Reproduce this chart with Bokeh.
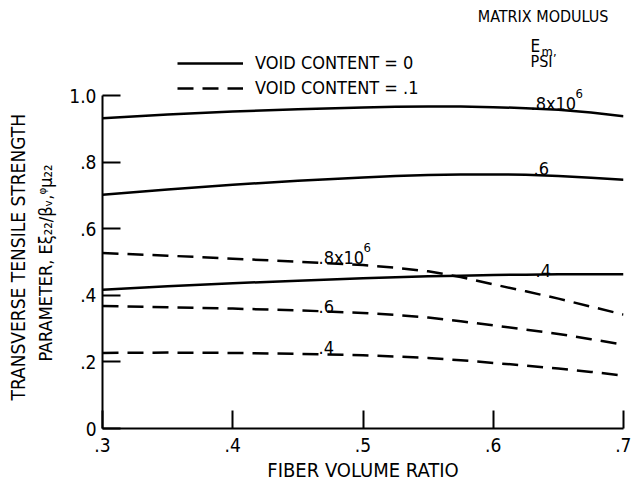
from bokeh.plotting import figure
from bokeh.models import Range1d, FixedTicker, Legend, LegendItem, LinearAxis
from bokeh.core.properties import value
from bokeh.embed import file_html
from bokeh.resources import INLINE

# ---- data ----
fiber_volume_ratio = [0.30, 0.35, 0.40, 0.45, 0.50, 0.525, 0.55, 0.575, 0.60, 0.625, 0.65, 0.675, 0.70]
void0_em08 = [0.932, 0.943, 0.952, 0.959, 0.964, 0.966, 0.967, 0.967, 0.965, 0.962, 0.957, 0.949, 0.938]
void0_em06 = [0.702, 0.718, 0.732, 0.744, 0.754, 0.758, 0.761, 0.763, 0.763, 0.762, 0.758, 0.753, 0.747]
void0_em04 = [0.417, 0.427, 0.436, 0.444, 0.451, 0.454, 0.457, 0.459, 0.461, 0.462, 0.463, 0.463, 0.463]
void1_em08 = [0.527, 0.519, 0.510, 0.501, 0.491, 0.483, 0.472, 0.455, 0.433, 0.412, 0.390, 0.366, 0.342]
void1_em06 = [0.368, 0.364, 0.360, 0.355, 0.347, 0.341, 0.333, 0.322, 0.310, 0.297, 0.284, 0.268, 0.252]
void1_em04 = [0.227, 0.228, 0.227, 0.224, 0.220, 0.216, 0.212, 0.205, 0.197, 0.189, 0.180, 0.170, 0.159]

x_ticks = [0.3, 0.4, 0.5, 0.6, 0.7]
x_tick_labels = [".3", ".4", ".5", ".6", ".7"]
y_ticks = [0.0, 0.2, 0.4, 0.6, 0.8, 1.0]
y_tick_labels = ["0", ".2", ".4", ".6", ".8", "1.0"]

legend_labels = ["VOID CONTENT = 0", "VOID CONTENT = .1"]
curve_labels = [".8x10", ".6", ".4"]
y_title_1 = "TRANSVERSE TENSILE STRENGTH"
y_title_2 = "PARAMETER, E\u03be\u2082\u2082/\u03b2\u1d65,\u1d60\u03bc\u2082\u2082"

FONT = "'DejaVu Sans Condensed', 'Liberation Sans', sans-serif"
W, H = 631, 484
LEFT, RIGHT, BOTTOM = 102, 8, 56
frame_h = H - BOTTOM
y_top = frame_h / 333.0
EMSP = "\u2003"  # em spaces shift the centred y titles down onto the 0..1 span

p = figure(width=W, height=H, output_backend="svg", toolbar_location=None,
           x_range=Range1d(0.3, 0.7), y_range=Range1d(0.0, y_top),
           min_border_left=LEFT, min_border_right=RIGHT,
           min_border_top=0, min_border_bottom=BOTTOM)
p.outline_line_color = None
p.grid.visible = False
p.background_fill_color = "white"
p.border_fill_color = "white"

for ax in (p.xaxis[0], p.yaxis[0]):
    ax.major_tick_in = 18
    ax.major_tick_out = 0
    ax.minor_tick_line_color = None
    ax.axis_line_width = 2
    ax.major_tick_line_width = 2
    ax.axis_line_color = "black"
    ax.major_tick_line_color = "black"
    ax.major_label_text_font = FONT
    ax.major_label_text_color = "black"
    ax.axis_label_text_font = FONT
    ax.axis_label_text_font_style = "normal"
    ax.axis_label_text_color = "black"

p.xaxis.ticker = FixedTicker(ticks=x_ticks)
p.xaxis.major_label_overrides = dict(zip(x_ticks, x_tick_labels))
p.xaxis.bounds = (0.3, 0.7)
p.xaxis.major_label_text_font_size = "19px"
p.xaxis.major_label_standoff = 9
p.xaxis.axis_label = "FIBER VOLUME RATIO"
p.xaxis.axis_label_text_font_size = "20px"
p.xaxis.axis_label_standoff = 3

p.yaxis.ticker = FixedTicker(ticks=y_ticks)
p.yaxis.major_label_overrides = dict(zip(y_ticks, y_tick_labels))
p.yaxis.bounds = (0.0, 1.0)
p.yaxis.major_label_text_font_size = "19px"
p.yaxis.major_label_standoff = 6
p.yaxis.axis_label = y_title_2 + EMSP * 6
p.yaxis.axis_label_text_font_size = "18px"
p.yaxis.axis_label_standoff = 10

# outer left axis only carries the first line of the y title
outer = LinearAxis(ticker=FixedTicker(ticks=[]), bounds=(0.0, 1.0),
                   axis_line_color=None, major_tick_line_color=None,
                   minor_tick_line_color=None,
                   axis_label=y_title_1 + EMSP * 5,
                   axis_label_text_font=FONT, axis_label_text_font_size="19px",
                   axis_label_text_font_style="normal", axis_label_text_color="black",
                   axis_label_standoff=4)
p.add_layout(outer, "left")

solid = dict(line_color="black", line_width=2.5)
dashed = dict(line_color="black", line_width=2.5, line_dash="16 9")

r_s8 = p.line(fiber_volume_ratio, void0_em08, **solid)
p.line(fiber_volume_ratio, void0_em06, **solid)
p.line(fiber_volume_ratio, void0_em04, **solid)
r_d8 = p.line(fiber_volume_ratio, void1_em08, **dashed)
p.line(fiber_volume_ratio, void1_em06, **dashed)
p.line(fiber_volume_ratio, void1_em04, **dashed)

legend = Legend(items=[LegendItem(label=legend_labels[0], renderers=[r_s8]),
                       LegendItem(label=legend_labels[1], renderers=[r_d8])],
                location=(75, 330), glyph_width=66, glyph_height=18,
                label_height=18, spacing=4, padding=0, margin=0,
                label_standoff=12, border_line_color=None,
                background_fill_alpha=0, label_text_font=FONT,
                label_text_font_size="18px", label_text_color="black")
p.add_layout(legend)

def px2x(px):
    return 0.3 + (px - LEFT) / 1302.5

def px2y(py):
    return (frame_h - py) / 333.0

txt = dict(text_font=value(FONT), text_color="black", text_baseline="alphabetic")

# curve labels (solid, at right; dashed, mid-plot)
sol_lab_x = [px2x(530), px2x(533), px2x(535)]
sol_lab_y = [px2y(103), px2y(168), px2y(270)]
das_lab_x = [px2x(318)] * 3
das_lab_y = [px2y(257), px2y(306), px2y(347)]
p.text(sol_lab_x, sol_lab_y, text=curve_labels, text_font_size="18px", **txt)
p.text(das_lab_x, das_lab_y, text=curve_labels, text_font_size="18px", **txt)
p.text([sol_lab_x[0], das_lab_x[0]], [sol_lab_y[0], das_lab_y[0]], text=["6", "6"],
       x_offset=45, y_offset=-10, text_font_size="13px", **txt)

# matrix modulus heading
p.text([px2x(608)], [px2y(16)], text=["MATRIX MODULUS"], text_font_size="16px",
       text_align="right", text_font=value(FONT), text_color="black", text_baseline="middle")
p.text([px2x(530)], [px2y(45)], text=["E"], text_font_size="17px", **txt)
p.text([px2x(541)], [px2y(51)], text=["m,"], text_font_size="13px", **txt)
p.text([px2x(541)], [px2y(61)], text=["PSI"], text_font_size="16px", text_align="center",
       text_font=value(FONT), text_color="black", text_baseline="middle")

open("out.html", "w").write(file_html(p, INLINE))
